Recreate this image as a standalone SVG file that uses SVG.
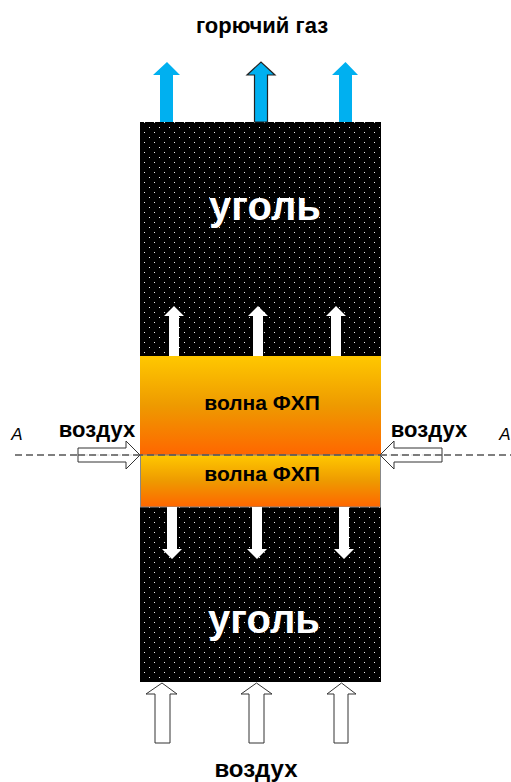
<svg xmlns="http://www.w3.org/2000/svg" width="511" height="782" viewBox="0 0 511 782">
<defs>
<pattern id="dots" x="0" y="0" width="10" height="10" patternUnits="userSpaceOnUse">
<rect width="10" height="10" fill="#000"/>
<rect x="4" y="2" width="1" height="1" fill="#eee"/>
<rect x="9" y="7" width="1" height="1" fill="#eee"/>
</pattern>
<linearGradient id="wave" x1="0" y1="0" x2="0" y2="1">
<stop offset="0" stop-color="#FFC800"/>
<stop offset="0.5" stop-color="#EE9A00"/>
<stop offset="1" stop-color="#FF6600"/>
</linearGradient>
<style>
.t{font-family:"Liberation Sans",Arial,sans-serif;font-weight:bold;text-anchor:middle}
.i{font-family:"Liberation Sans",Arial,sans-serif;font-style:italic;text-anchor:middle}
.blue{fill:#00B0F0}
.wh{fill:#fff}
.out{fill:#fff;stroke:#333;stroke-width:1}
.dash{stroke:#555;stroke-width:1.3;stroke-dasharray:7,4;fill:none}
</style>
</defs>
<rect width="511" height="782" fill="#fff"/>
<g id="coal">
<rect x="140" y="122" width="241" height="560" fill="url(#dots)"/>
<text class="t" x="265" y="220" font-size="40" fill="#fff">уголь</text>
<text class="t" x="264" y="633" font-size="40" fill="#fff">уголь</text>
</g>
<g id="wave-top">
<rect x="140" y="356" width="241" height="99" fill="url(#wave)"/>
<text class="t" x="262" y="410" font-size="21" fill="#000">волна ФХП</text>
</g>
<g id="wave-bottom">
<rect x="140.5" y="455" width="240" height="52" fill="url(#wave)" stroke="#888" stroke-width="1"/>
<text class="t" x="262" y="481" font-size="21" fill="#000">волна ФХП</text>
</g>
<g id="title">
<text class="t" x="262" y="33" font-size="22" fill="#000">горючий газ</text>
</g>
<g id="bottom-label">
<text class="t" x="256" y="777" font-size="24" fill="#000">воздух</text>
</g>
<g id="left-label">
<text class="t" x="97" y="437" font-size="22" fill="#000">воздух</text>
<text class="i" x="17" y="440" font-size="17" fill="#000">A</text>
</g>
<g id="right-label">
<text class="t" x="429" y="437" font-size="22" fill="#000">воздух</text>
<text class="i" x="505" y="440" font-size="17" fill="#000">A</text>
</g>
<g id="connectors">
<polygon class="blue" points="160,122 160,75 153,75 167,62 180,75 173,75 173,122"/>
<polygon class="blue" points="254.5,122 254.5,75 247,75 261,62 275,75 267.5,75 267.5,122" stroke="#222" stroke-width="1.2"/>
<polygon class="blue" points="339,122 339,75 332,75 345.5,62 358,75 352,75 352,122"/>
<polygon class="wh" points="169,356 169,316 164,316 174,306 184,316 179,316 179,356"/>
<polygon class="wh" points="253,356 253,316 248,316 258,306 268,316 263,316 263,356"/>
<polygon class="wh" points="331,356 331,316 326,316 336,306 346,316 341,316 341,356"/>
<polygon class="wh" points="167,507 167,549 162,549 172,559 182,549 177,549 177,507"/>
<polygon class="wh" points="252,507 252,549 247,549 257,559 267,549 262,549 262,507"/>
<polygon class="wh" points="339,507 339,549 334,549 344,559 354,549 349,549 349,507"/>
<polygon class="out" points="155,743 155,694 146,694 162,683 177,694 170,694 170,743"/>
<polygon class="out" points="249,743 249,694 241,694 256.5,683 272,694 264,694 264,743"/>
<polygon class="out" points="334,743 334,694 327,694 341.5,683 356,694 348,694 348,743"/>
<line class="dash" x1="15" y1="455" x2="511" y2="455"/>
<polygon class="out" points="78,448 126,448 126,441 140,455 126,469 126,462 78,462" fill-opacity="0.85"/>
<polygon class="out" points="442,448 394,448 394,441 380,455 394,469 394,462 442,462" fill-opacity="0.85"/>
<line class="dash" x1="78" y1="455" x2="140" y2="455"/>
<line class="dash" x1="380" y1="455" x2="442" y2="455"/>
</g>
</svg>
